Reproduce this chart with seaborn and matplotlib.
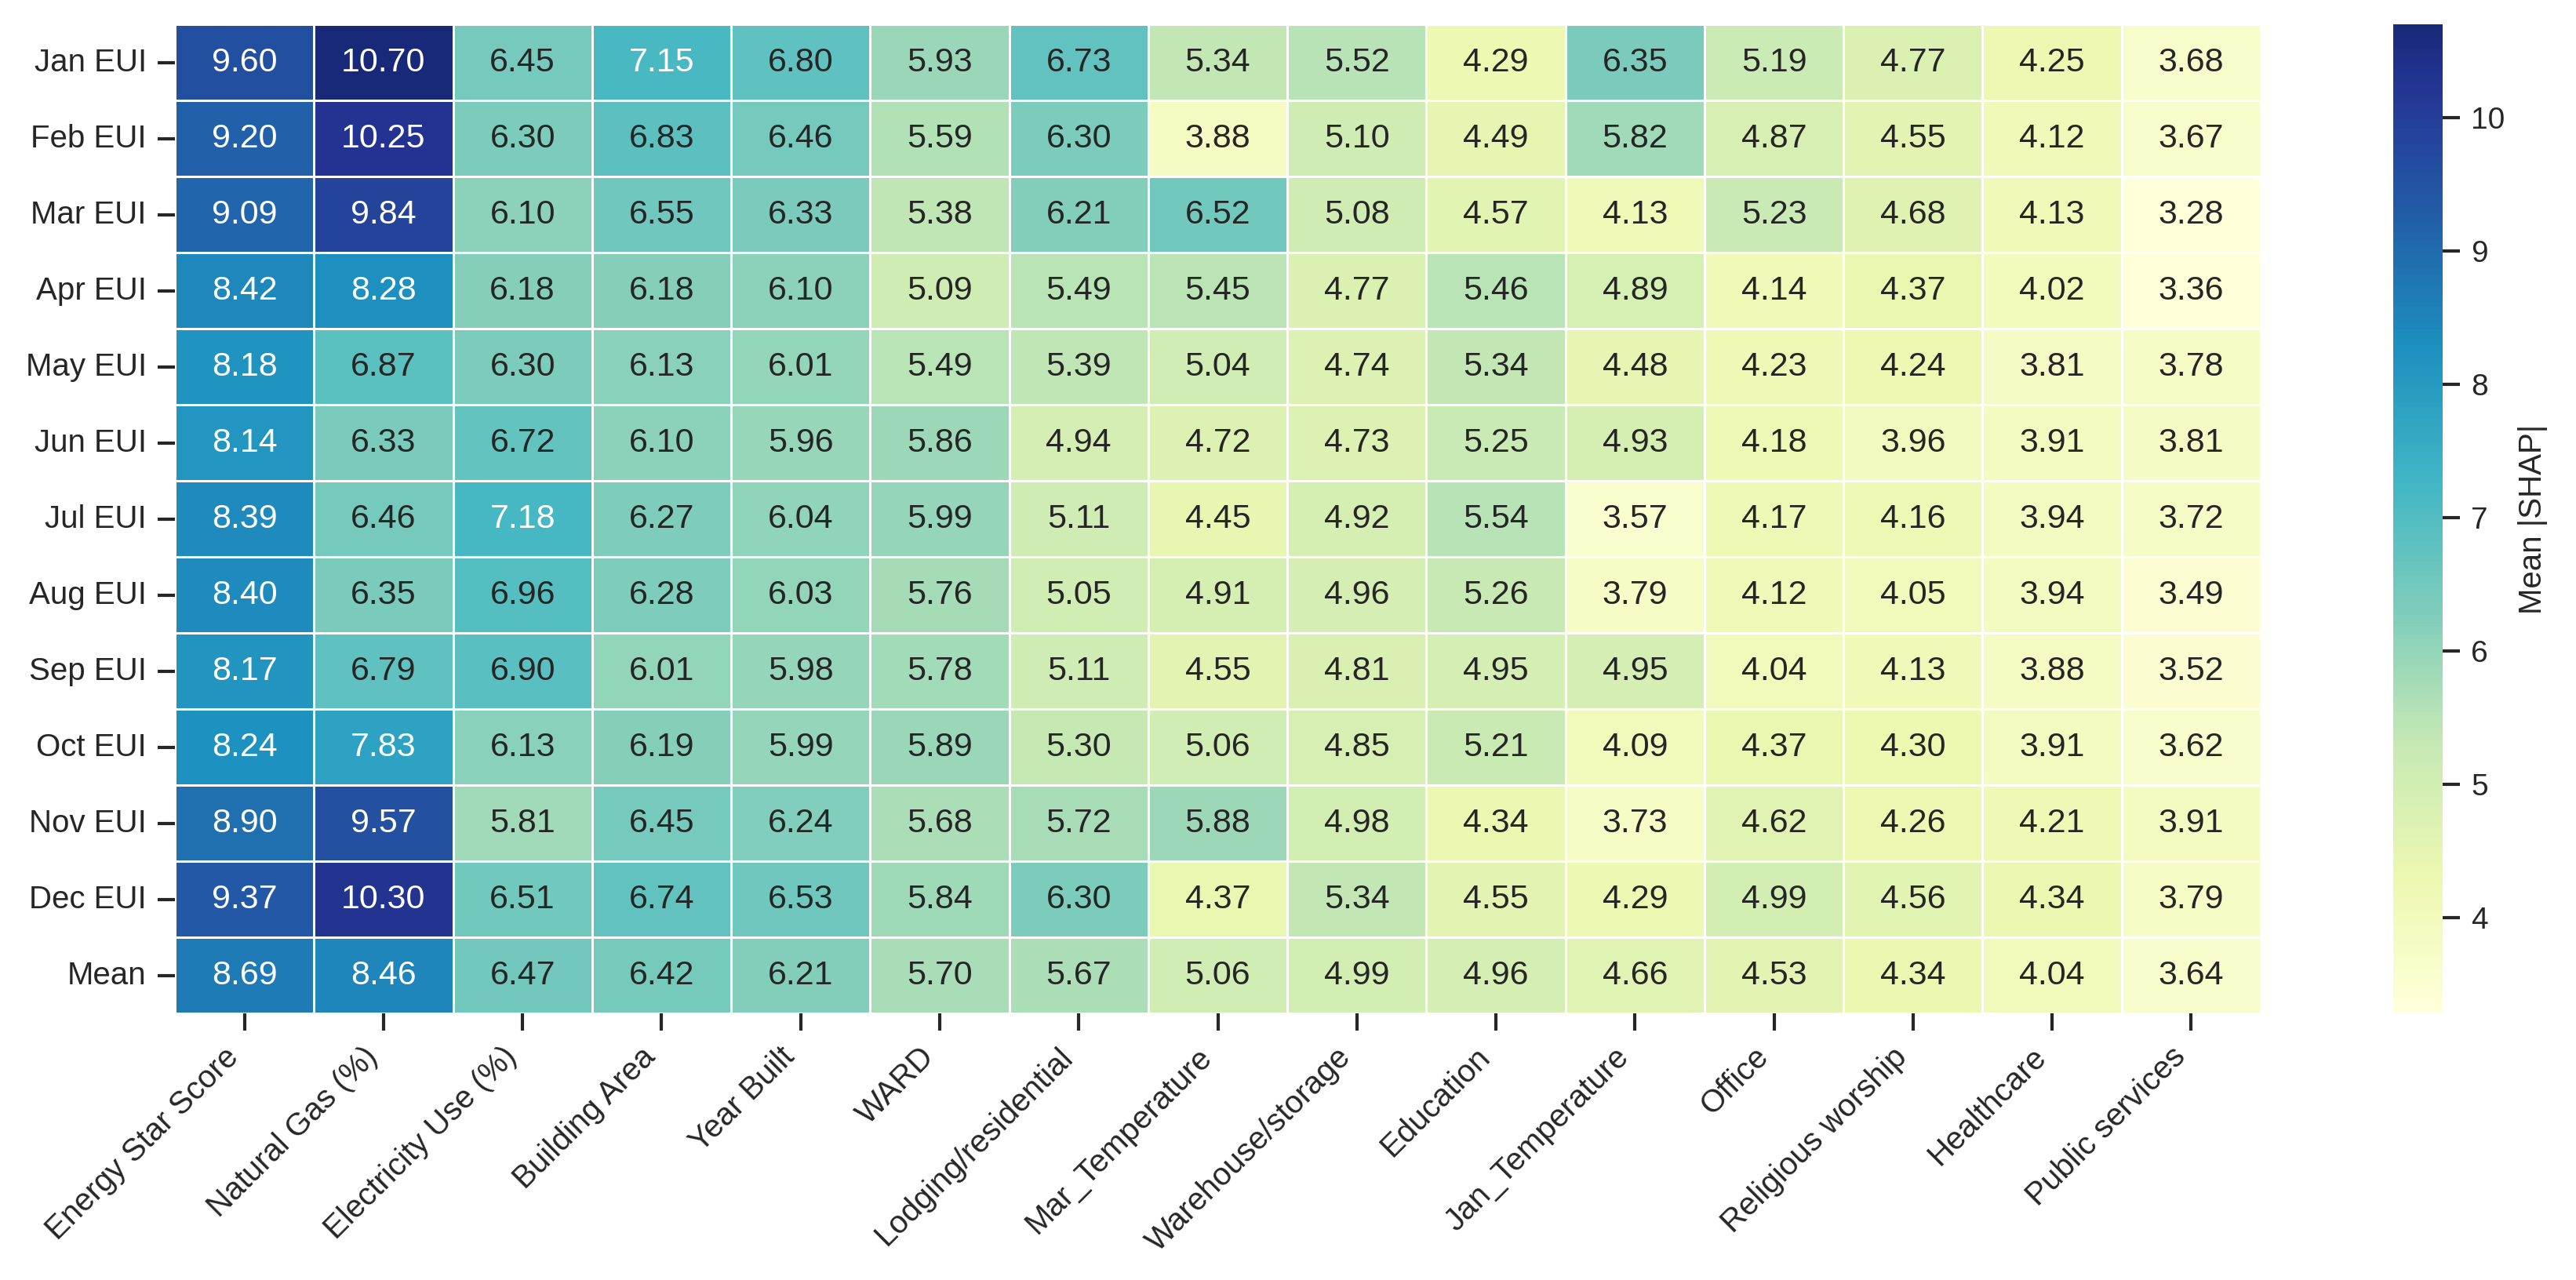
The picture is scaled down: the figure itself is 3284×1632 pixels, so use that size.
import numpy as np
import pandas as pd
import matplotlib
matplotlib.use("Agg")
import matplotlib.pyplot as plt
from matplotlib.colors import ListedColormap
import seaborn as sns

features = ["Energy Star Score", "Natural Gas (%)", "Electricity Use (%)", "Building Area",
            "Year Built", "WARD", "Lodging/residential", "Mar_Temperature", "Warehouse/storage",
            "Education", "Jan_Temperature", "Office", "Religious worship", "Healthcare",
            "Public services"]
rows = ["Jan EUI", "Feb EUI", "Mar EUI", "Apr EUI", "May EUI", "Jun EUI", "Jul EUI",
        "Aug EUI", "Sep EUI", "Oct EUI", "Nov EUI", "Dec EUI", "Mean"]

jan = [9.60, 10.70, 6.45, 7.15, 6.80, 5.93, 6.73, 5.34, 5.52, 4.29, 6.35, 5.19, 4.77, 4.25, 3.68]
feb = [9.20, 10.25, 6.30, 6.83, 6.46, 5.59, 6.30, 3.88, 5.10, 4.49, 5.82, 4.87, 4.55, 4.12, 3.67]
mar = [9.09, 9.84, 6.10, 6.55, 6.33, 5.38, 6.21, 6.52, 5.08, 4.57, 4.13, 5.23, 4.68, 4.13, 3.28]
apr = [8.42, 8.28, 6.18, 6.18, 6.10, 5.09, 5.49, 5.45, 4.77, 5.46, 4.89, 4.14, 4.37, 4.02, 3.36]
may = [8.18, 6.87, 6.30, 6.13, 6.01, 5.49, 5.39, 5.04, 4.74, 5.34, 4.48, 4.23, 4.24, 3.81, 3.78]
jun = [8.14, 6.33, 6.72, 6.10, 5.96, 5.86, 4.94, 4.72, 4.73, 5.25, 4.93, 4.18, 3.96, 3.91, 3.81]
jul = [8.39, 6.46, 7.18, 6.27, 6.04, 5.99, 5.11, 4.45, 4.92, 5.54, 3.57, 4.17, 4.16, 3.94, 3.72]
aug = [8.40, 6.35, 6.96, 6.28, 6.03, 5.76, 5.05, 4.91, 4.96, 5.26, 3.79, 4.12, 4.05, 3.94, 3.49]
sep = [8.17, 6.79, 6.90, 6.01, 5.98, 5.78, 5.11, 4.55, 4.81, 4.95, 4.95, 4.04, 4.13, 3.88, 3.52]
oct_ = [8.24, 7.83, 6.13, 6.19, 5.99, 5.89, 5.30, 5.06, 4.85, 5.21, 4.09, 4.37, 4.30, 3.91, 3.62]
nov = [8.90, 9.57, 5.81, 6.45, 6.24, 5.68, 5.72, 5.88, 4.98, 4.34, 3.73, 4.62, 4.26, 4.21, 3.91]
dec = [9.37, 10.30, 6.51, 6.74, 6.53, 5.84, 6.30, 4.37, 5.34, 4.55, 4.29, 4.99, 4.56, 4.34, 3.79]
mean = [8.69, 8.46, 6.47, 6.42, 6.21, 5.70, 5.67, 5.06, 4.99, 4.96, 4.66, 4.53, 4.34, 4.04, 3.64]

df = pd.DataFrame([jan, feb, mar, apr, may, jun, jul, aug, sep, oct_, nov, dec, mean],
                  index=rows, columns=features)

sns.set_theme(style="ticks")
plt.rcParams["font.family"] = ["Liberation Sans", "DejaVu Sans"]

# YlGnBu, slightly truncated at the dark end
cmap = ListedColormap(plt.get_cmap("YlGnBu")(np.linspace(0.0, 0.93, 256)))

fig = plt.figure(figsize=(16.42, 8.16), dpi=200)
ax = fig.add_axes([0.0679, 0.2083, 0.8097, 0.7727])
cax = fig.add_axes([0.929, 0.2083, 0.0192, 0.7727])

sns.heatmap(df, ax=ax, cbar_ax=cax, cmap=cmap, annot=True, fmt=".2f",
            linewidths=1, linecolor="white",
            annot_kws={"fontsize": 15.5},
            cbar_kws={"label": "Mean |SHAP|"})

ax.tick_params(axis="both", length=8, width=1.5, labelsize=14.5, color=".15", pad=5)
ax.set_xticklabels(ax.get_xticklabels(), rotation=45, ha="right")
ax.set_yticklabels(ax.get_yticklabels(), rotation=0)
ax.set_xlabel("")
ax.set_ylabel("")

cax.tick_params(length=8, width=1.5, labelsize=14, color=".15", pad=5)
cax.yaxis.label.set_size(14.5)
cax.yaxis.labelpad = 6

fig.savefig("out.png", dpi=200)
